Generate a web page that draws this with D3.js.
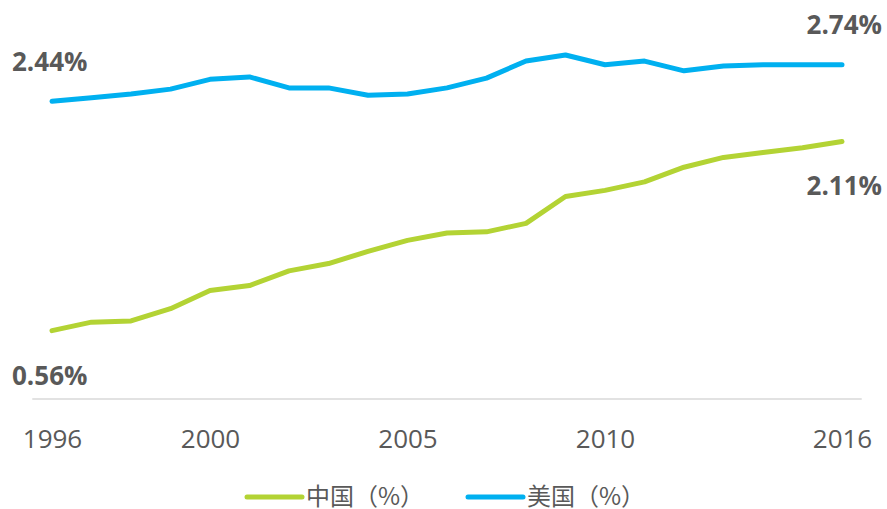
<!DOCTYPE html>
<html>
<head>
<meta charset="utf-8">
<script src="https://cdn.jsdelivr.net/npm/d3@7"></script>
<style>
  body { margin: 0; background: #fff; }
  svg { display: block; }
</style>
</head>
<body>
<svg></svg>
<script>
// data
var years = [1996, 1997, 1998, 1999, 2000, 2001, 2002, 2003, 2004, 2005, 2006,
             2007, 2008, 2009, 2010, 2011, 2012, 2013, 2014, 2015, 2016];
var chinaValues = [0.56, 0.63, 0.64, 0.74, 0.89, 0.93, 1.05, 1.11, 1.21, 1.30, 1.36,
                   1.37, 1.44, 1.66, 1.71, 1.78, 1.90, 1.98, 2.02, 2.06, 2.11];
var usValues = [2.44, 2.47, 2.50, 2.54, 2.62, 2.64, 2.55, 2.55, 2.49, 2.50, 2.55,
                2.63, 2.77, 2.82, 2.74, 2.77, 2.69, 2.73, 2.74, 2.74, 2.74];
var tickYears = [1996, 2000, 2005, 2010, 2016];
var seriesNames = ["中国（%）", "美国（%）"];
var seriesColors = ["#b3d334", "#00b0f0"];

var width = 887, height = 509;
var svg = d3.select("svg").attr("width", width).attr("height", height);

var x = d3.scaleLinear().domain([1996, 2016]).range([52, 842]);
var y = d3.scaleLinear().domain([0, 3]).range([399, 33]);

// baseline
svg.append("line")
  .attr("x1", x(1995.5)).attr("x2", x(2016.5))
  .attr("y1", y(0)).attr("y2", y(0))
  .attr("stroke", "#d9d9d9")
  .attr("stroke-width", 1.5);

// x tick labels
var xAxis = d3.axisBottom(x)
  .tickValues(tickYears)
  .tickFormat(d3.format("d"))
  .tickSize(0)
  .tickPadding(0);
var gx = svg.append("g")
  .attr("transform", "translate(0," + y(0) + ")")
  .call(xAxis);
gx.select(".domain").remove();
gx.selectAll("text")
  .attr("dy", null)
  .attr("y", 49)
  .attr("font-family", "'Open Sans', sans-serif")
  .attr("font-size", 26)
  .attr("fill", "#595959");

var line = d3.line()
  .x(function(d, i) { return x(years[i]); })
  .y(function(d) { return y(d); });

var series = [chinaValues, usValues];
svg.selectAll("path.series")
  .data(series).enter()
  .append("path")
  .attr("class", "series")
  .attr("d", line)
  .attr("fill", "none")
  .attr("stroke", function(d, i) { return seriesColors[i]; })
  .attr("stroke-width", 5)
  .attr("stroke-linejoin", "round")
  .attr("stroke-linecap", "round");

// end value labels
var fmt = function(v) { return d3.format(".2f")(v) + "%"; };
var last = years.length - 1;
var labels = [
  { v: usValues[0], x: 12, y: y(usValues[0]) - 30, anchor: "start" },
  { v: usValues[last], x: 882, y: y(usValues[last]) - 31, anchor: "end" },
  { v: chinaValues[0], x: 12, y: y(chinaValues[0]) + 54, anchor: "start" },
  { v: chinaValues[last], x: 882, y: y(chinaValues[last]) + 53, anchor: "end" }
];
svg.selectAll("text.vlabel")
  .data(labels).enter()
  .append("text")
  .attr("class", "vlabel")
  .attr("x", function(d) { return d.x; })
  .attr("y", function(d) { return d.y; })
  .attr("text-anchor", function(d) { return d.anchor; })
  .attr("font-family", "'Open Sans', sans-serif")
  .attr("font-weight", "bold")
  .attr("font-size", 26)
  .attr("fill", "#595959")
  .text(function(d) { return fmt(d.v); });

// legend
var legendX = [247, 468];
var legend = svg.selectAll("g.legend")
  .data(seriesNames).enter()
  .append("g")
  .attr("class", "legend")
  .attr("transform", function(d, i) { return "translate(" + legendX[i] + ",497)"; });
legend.append("line")
  .attr("x1", 0).attr("x2", 55)
  .attr("stroke", function(d, i) { return seriesColors[i]; })
  .attr("stroke-width", 5)
  .attr("stroke-linecap", "round");
legend.append("text")
  .attr("x", 59)
  .attr("dy", "0.35em")
  .attr("font-family", "'Noto Sans CJK SC', sans-serif")
  .attr("font-size", 24)
  .attr("fill", "#595959")
  .text(function(d) { return d; });
</script>
</body>
</html>
